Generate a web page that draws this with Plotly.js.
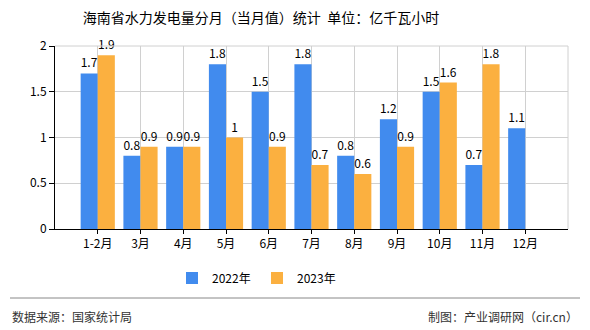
<!DOCTYPE html>
<html><head><meta charset="utf-8">
<script src="https://cdn.plot.ly/plotly-3.0.1.min.js"></script>
<style>html,body{margin:0;padding:0;background:#fff}#chart{width:590px;height:330px}</style>
</head><body><div id="chart"></div>
<script>
const categories = ["1-2月","3月","4月","5月","6月","7月","8月","9月","10月","11月","12月"];
const values2022 = [1.7,0.8,0.9,1.8,1.5,1.8,0.8,1.2,1.5,0.7,1.1];
const values2023 = [1.9,0.9,0.9,1.0,0.9,0.7,0.6,0.9,1.6,1.8,null];
const seriesNames = ["2022年","2023年"];
const yTicks = [0,0.5,1,1.5,2];
const yTickLabels = ["0","0.5","1","1.5","2"];

const F = '"Noto Sans CJK SC", "DejaVu Sans", sans-serif';
const mk = (name, vals, color) => ({
  type:'bar', name, x:categories, y:vals,
  marker:{color},
  text: vals.map(v => v==null ? '' : String(v)),
  textposition:'outside', cliponaxis:false,
  textfont:{family:F, size:12, color:'#000'},
  hoverinfo:'skip'
});
const data = [mk(seriesNames[0], values2022, '#418BEE'), mk(seriesNames[1], values2023, '#FBB040')];

const layout = {
  width:590, height:330,
  margin:{l:55, r:22, t:46, b:101},
  paper_bgcolor:'#fff', plot_bgcolor:'#fff',
  font:{family:F, size:12, color:'#000'},
  title:{text:'海南省水力发电量分月（当月值）统计  单位：亿千瓦小时', x:261/590, xanchor:'center', y:1-18/330, yanchor:'middle', font:{family:F, size:14, color:'#000'}},
  barmode:'group', bargap:0.2, bargroupgap:0,
  xaxis:{type:'category', range:[-1,11], showline:true, linecolor:'#000', linewidth:1,
    showgrid:true, gridcolor:'#d0d0d0', ticks:'outside', ticklen:4, tickcolor:'#000',
    tickfont:{family:F, size:12, color:'#000'}, mirror:false, fixedrange:true},
  yaxis:{range:[0,2], tickvals:yTicks, ticktext:yTickLabels, showline:true, linecolor:'#000', linewidth:1,
    showgrid:true, gridcolor:'#d0d0d0', ticks:'outside', ticklen:5, tickcolor:'#000',
    tickfont:{family:F, size:12, color:'#000'}, zeroline:false, fixedrange:true},
  showlegend:true,
  legend:{orientation:'h', x:(257-55)/513, xanchor:'center', y:(229-278)/183, yanchor:'middle',
    font:{family:F, size:12, color:'#000'}, itemwidth:30, traceorder:'normal', entrywidth:40, entrywidthmode:'pixels'},
  shapes:[
    {type:'line', xref:'paper', yref:'paper', x0:(10-55)/513, x1:(580-55)/513, y0:(229-298)/183, y1:(229-298)/183, line:{color:'#888', width:1}},
    {type:'line', xref:'paper', yref:'paper', x0:1, x1:1, y0:0, y1:1, line:{color:'#d0d0d0', width:1}},
    {type:'line', xref:'paper', yref:'paper', x0:0, x1:1, y0:1, y1:1, line:{color:'#d0d0d0', width:1}}
  ],
  annotations:[
    {xref:'paper', yref:'paper', x:(10-55)/513, y:(229-316)/183, xanchor:'left', yanchor:'middle', text:'数据来源：国家统计局', showarrow:false, font:{family:F, size:12, color:'#333'}},
    {xref:'paper', yref:'paper', x:(580-55)/513, y:(229-316)/183, xanchor:'right', yanchor:'middle', text:'制图：产业调研网（cir.cn）', showarrow:false, font:{family:F, size:12, color:'#333'}}
  ]
};
Plotly.newPlot('chart', data, layout, {displayModeBar:false, staticPlot:true});
</script></body></html>
